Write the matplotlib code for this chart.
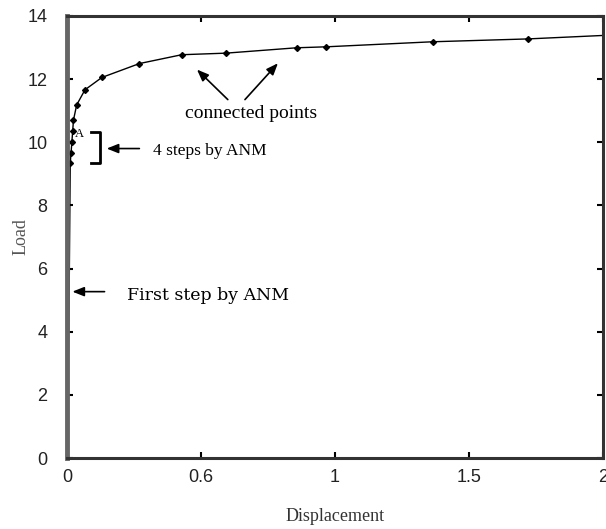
import matplotlib
matplotlib.use('Agg')
import matplotlib.pyplot as plt

# load-displacement curve
disp = [0.0, 0.008, 0.012, 0.015, 0.018, 0.021, 0.024, 0.036, 0.067, 0.13,
        0.27, 0.428, 0.593, 0.857, 0.966, 1.364, 1.719, 2.0]
load = [0.0, 5.27, 9.34, 9.66, 10.0, 10.34, 10.7, 11.18, 11.66, 12.05,
        12.49, 12.77, 12.82, 12.99, 13.02, 13.18, 13.27, 13.38]
# points drawn with a marker (the rest is line only)
marked = list(range(2, 17))

xticks = [0, 0.5, 1, 1.5, 2]
xtick_labels = ['0', '0.6', '1', '1.5', '2']
yticks = [0, 2, 4, 6, 8, 10, 12, 14]

serif = ['Liberation Serif', 'DejaVu Serif']
narrow = ['Liberation Sans Narrow', 'Liberation Sans', 'DejaVu Sans']

fig = plt.figure(figsize=(6.06, 5.29), dpi=100)
ax = fig.add_axes([0.1106, 0.134, 0.8844, 0.836])

ax.plot(disp, load, color='black', lw=1.0)
ax.plot([disp[i] for i in marked], [load[i] for i in marked],
        linestyle='none', marker='D', ms=3, color='black')

ax.set_xlim(0, 2)
ax.set_ylim(0, 14)
ax.set_xticks(xticks)
ax.set_xticklabels(xtick_labels, family=narrow, fontsize=13, color='#222222')
ax.set_yticks(yticks)
ax.set_yticklabels([str(v) for v in yticks], family=narrow, fontsize=13, color='#222222')
ax.tick_params(axis='y', pad=14)
ax.tick_params(axis='x', pad=8)
ax.tick_params(direction='in', length=4, width=1.5, top=True, right=True)

for side in ['left', 'bottom', 'right', 'top']:
    ax.spines[side].set_linewidth(2.2)
    ax.spines[side].set_color('#333333')
ax.spines['left'].set_color('#666666')
ax.spines['left'].set_linewidth(3.5)

ax.set_xlabel('Displacement', family=serif, fontsize=13, color='#333333')
ax.set_ylabel('Load', family=serif, fontsize=13, color='#555555')
ax.xaxis.set_label_coords(0.5, -0.112)
ax.yaxis.set_label_coords(-0.07, 0.5)

arrow = dict(arrowstyle='-|>,head_length=0.7,head_width=0.28', color='black', lw=1.2,
             shrinkA=0, shrinkB=0)

# connected points
ax.text(0.685, 10.9, 'connected points', family=serif, fontsize=14, ha='center', va='center')
ax.annotate('', xy=(0.485, 12.3), xytext=(0.6, 11.35), arrowprops=arrow)
ax.annotate('', xy=(0.787, 12.5), xytext=(0.664, 11.35), arrowprops=arrow)

# 4 steps bracket
ax.plot([0.09, 0.123, 0.123, 0.09], [10.33, 10.33, 9.34, 9.34], color='black', lw=2)
ax.text(0.045, 10.25, 'A', family=serif, fontsize=9, ha='center', va='center')
ax.annotate('', xy=(0.148, 9.8), xytext=(0.27, 9.8), arrowprops=arrow)
ax.text(0.32, 9.72, '4 steps by ANM', family=serif, fontsize=12.5, va='center')

# first step
ax.annotate('', xy=(0.02, 5.27), xytext=(0.14, 5.27), arrowprops=arrow)
ax.text(0.225, 5.15, 'First step by ANM', family=['DejaVu Serif'], fontsize=12.5, va='center')

fig.savefig('out.png', dpi=100)
